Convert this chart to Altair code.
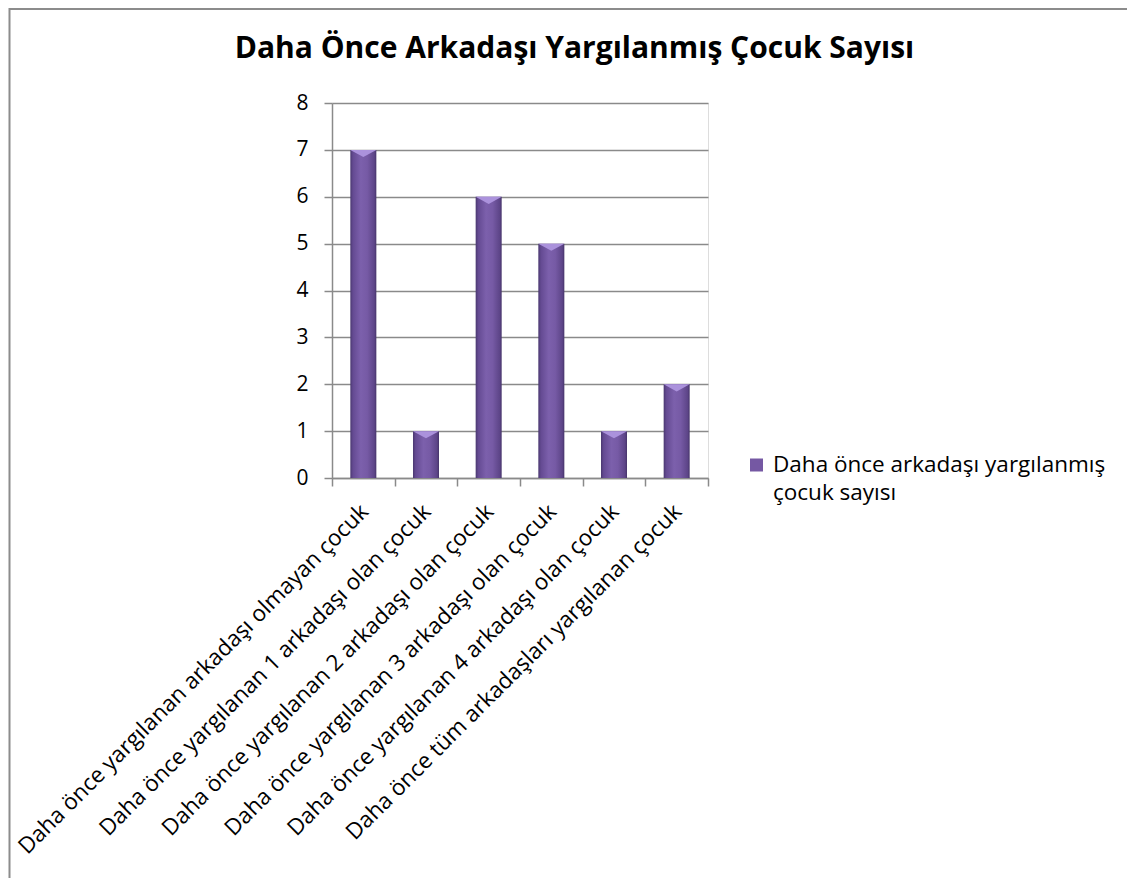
import altair as alt
import pandas as pd

categories = [
    "Daha önce yargılanan arkadaşı olmayan çocuk",
    "Daha önce yargılanan 1 arkadaşı olan çocuk",
    "Daha önce yargılanan 2 arkadaşı olan çocuk",
    "Daha önce yargılanan 3 arkadaşı olan çocuk",
    "Daha önce yargılanan 4 arkadaşı olan çocuk",
    "Daha önce tüm arkadaşları yargılanan çocuk",
]
values = [7, 1, 6, 5, 1, 2]
series_name = "Daha önce arkadaşı yargılanmış çocuk sayısı"
title_text = "Daha Önce Arkadaşı Yargılanmış Çocuk Sayısı"
y_ticks = [0, 1, 2, 3, 4, 5, 6, 7, 8]

df = pd.DataFrame({"kategori": categories, "deger": values})

FONT = "Open Sans"
GRID = "#8a8a8a"
W, H = 376, 375
PAD_L, PAD_T = 324, 95
PAD_R = 1119 - PAD_L - W
PAD_B = 870 - PAD_T - H

x_enc = alt.X(
    "kategori:N",
    sort=categories,
    scale=alt.Scale(paddingInner=0, paddingOuter=0),
    axis=alt.Axis(
        title=None,
        labelAngle=315,
        labelAlign="right",
        labelBaseline="top",
        labelFont=FONT,
        labelFontSize=22.5,
        labelColor="#000000",
        labelPadding=14,
        labelOffset=-7,
        labelLimit=700,
        tickBand="extent",
        tickSize=8,
        tickColor=GRID,
        tickWidth=1.5,
        domainColor=GRID,
        domainWidth=1.5,
        grid=False,
    ),
)
y_enc = alt.Y(
    "deger:Q",
    scale=alt.Scale(domain=[0, 8], nice=False),
    axis=alt.Axis(
        title=None,
        values=y_ticks,
        labelFont=FONT,
        labelFontSize=21,
        labelColor="#000000",
        labelPadding=16,
        tickSize=8,
        tickColor=GRID,
        tickWidth=1.5,
        domainColor=GRID,
        domainWidth=1.5,
        grid=True,
        gridColor=GRID,
        gridWidth=1.5,
    ),
)

bar_fill = alt.Gradient(
    gradient="linear",
    x1=0, x2=1, y1=0, y2=0,
    stops=[
        alt.GradientStop(offset=0, color="#4a3870"),
        alt.GradientStop(offset=0.1, color="#644a92"),
        alt.GradientStop(offset=0.4, color="#7c60ac"),
        alt.GradientStop(offset=0.65, color="#765aa5"),
        alt.GradientStop(offset=0.92, color="#5d4588"),
        alt.GradientStop(offset=1, color="#46346a"),
    ],
)

bars = alt.Chart(df).mark_bar(color=bar_fill, width=alt.RelativeBandSize(0.415)).encode(x=x_enc, y=y_enc)

chevrons = alt.Chart(df).mark_point(
    shape="M-1,0L1,0L0,0.55Z",
    filled=True,
    color="#ab92dc",
    opacity=1,
    strokeWidth=0,
    size=676,
).encode(x=alt.X("kategori:N", sort=categories), y="deger:Q")

# title as text
title_df = pd.DataFrame({"baslik": [title_text]})
title_mark = alt.Chart(title_df).mark_text(
    align="center", baseline="alphabetic", font=FONT, fontSize=30,
    fontWeight="bold", color="#000000",
).encode(x=alt.value(242.5), y=alt.value(-45), text="baslik:N")

# legend (single series)
legend_df = pd.DataFrame({"etiket": [series_name[:30] + "\n" + series_name[31:]]})
legend_symbol = alt.Chart(legend_df).mark_square(
    color="#7558a3", opacity=1, size=169
).encode(x=alt.value(424.5), y=alt.value(362))
legend_label = alt.Chart(legend_df).mark_text(
    align="left", baseline="alphabetic", font=FONT, fontSize=22.5,
    color="#000000", lineBreak="\n", lineHeight=28.5,
).encode(x=alt.value(441), y=alt.value(368.5), text="etiket:N")

border = pd.DataFrame({"k": ["b"]})
left_border = alt.Chart(border).mark_rule(color="#8c8c8c", strokeWidth=2).encode(
    x=alt.value(-PAD_L + 1.5), y=alt.value(-PAD_T), y2=alt.value(H + PAD_B)
)
top_border = alt.Chart(border).mark_rule(color="#8c8c8c", strokeWidth=2).encode(
    x=alt.value(-PAD_L + 1.5), x2=alt.value(W + PAD_R), y=alt.value(-PAD_T + 1)
)

chart = alt.layer(
    left_border, top_border, bars, chevrons, title_mark, legend_symbol, legend_label
).properties(
    width=W,
    height=H,
    padding={"left": PAD_L, "top": PAD_T, "right": PAD_R, "bottom": PAD_B},
    autosize=alt.AutoSizeParams(type="none"),
).configure_view(strokeWidth=0).configure(background="#ffffff")

chart.save("out.html", embed_options={"renderer": "svg", "actions": False})
